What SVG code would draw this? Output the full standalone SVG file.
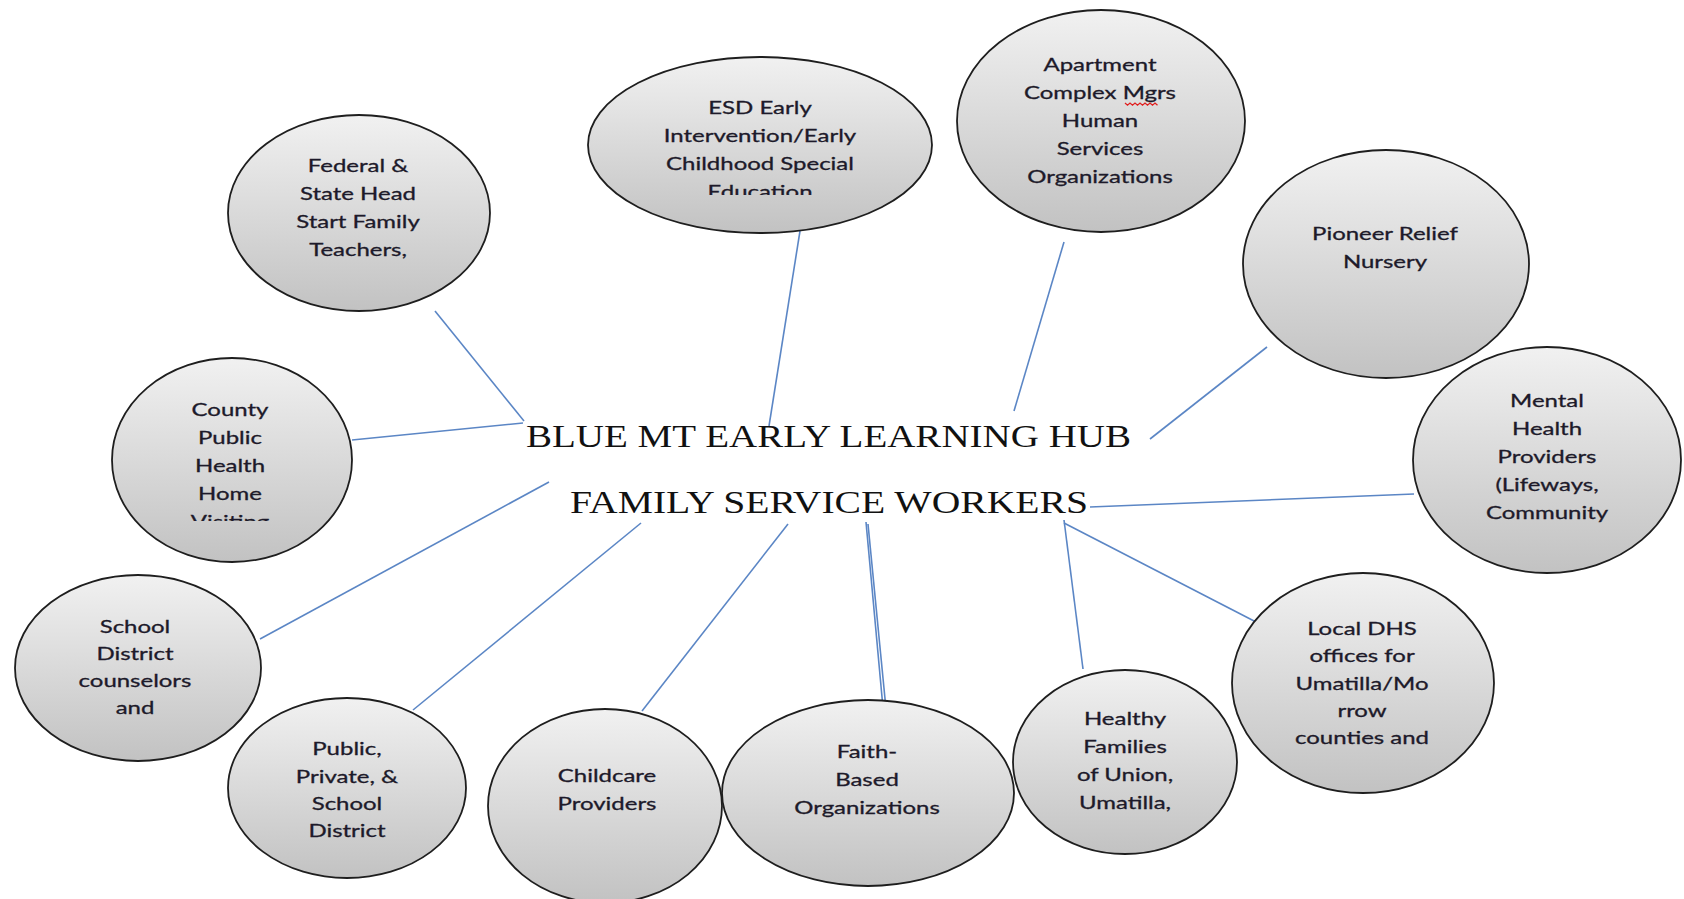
<svg xmlns="http://www.w3.org/2000/svg" width="1684" height="899" viewBox="0 0 1684 899">
<style>
.bg{fill:#ffffff}
.node{fill:url(#g);stroke:#1e1e1e;stroke-width:1.8}
.t{font-family:Lato,"Open Sans","Liberation Sans",sans-serif;font-size:17.5px;fill:#1d1a2a;stroke:#1d1a2a;stroke-width:0.3;text-anchor:middle}
.c{stroke:#5b86c5;stroke-width:1.6;fill:none}
.hub{font-family:"Liberation Serif","Times New Roman",serif;font-size:32.5px;fill:#111}
</style>
<defs>
<linearGradient id="g" x1="0" y1="0" x2="0" y2="1">
<stop offset="0" stop-color="#f1f1f1"/>
<stop offset="1" stop-color="#c2c2c2"/>
</linearGradient>
<clipPath id="clipEsd" clipPathUnits="userSpaceOnUse"><rect x="-300" y="0" width="600" height="195"/></clipPath>
<clipPath id="clipCounty" clipPathUnits="userSpaceOnUse"><rect x="-300" y="300" width="600" height="221"/></clipPath>
</defs>
<rect class="bg" x="0" y="0" width="1684" height="899"/>

<g id="connectors">
<line class="c" x1="435" y1="311" x2="524" y2="421"/>
<line class="c" x1="352" y1="440" x2="523" y2="423"/>
<line class="c" x1="800" y1="231" x2="769" y2="426"/>
<line class="c" x1="1064" y1="242" x2="1014" y2="411"/>
<line class="c" x1="1267" y1="347" x2="1150" y2="439"/>
<line class="c" x1="1414" y1="494" x2="1090" y2="507"/>
<line class="c" x1="260" y1="639" x2="549" y2="482"/>
<line class="c" x1="413" y1="710" x2="641" y2="523"/>
<line class="c" x1="642" y1="711" x2="788" y2="524"/>
<line class="c" x1="866" y1="522" x2="883" y2="708"/>
<line class="c" x1="868" y1="524" x2="886" y2="709"/>
<line class="c" x1="1064" y1="520" x2="1083" y2="669"/>
<line class="c" x1="1064" y1="523" x2="1256" y2="622"/>
</g>

<g id="hub">
<text class="hub" x="526" y="447" textLength="605" lengthAdjust="spacingAndGlyphs">BLUE MT EARLY LEARNING HUB</text>
<text class="hub" x="570" y="513" textLength="518" lengthAdjust="spacingAndGlyphs">FAMILY SERVICE WORKERS</text>
</g>

<g id="n-federal">
<ellipse class="node" cx="359" cy="213" rx="131" ry="98"/>
<g transform="translate(358,0) scale(1.37,1)">
<text class="t" x="0" y="172">Federal &amp;</text>
<text class="t" x="0" y="200">State Head</text>
<text class="t" x="0" y="228">Start Family</text>
<text class="t" x="0" y="256">Teachers,</text>
</g>
</g>

<g id="n-esd">
<ellipse class="node" cx="760" cy="145" rx="172" ry="88"/>
<g transform="translate(760,0) scale(1.37,1)" clip-path="url(#clipEsd)">
<text class="t" x="0" y="114">ESD Early</text>
<text class="t" x="0" y="142">Intervention/Early</text>
<text class="t" x="0" y="170">Childhood Special</text>
<text class="t" x="0" y="198">Education</text>
</g>
</g>

<g id="n-apartment">
<ellipse class="node" cx="1101" cy="121" rx="144" ry="111"/>
<g transform="translate(1100,0) scale(1.37,1)">
<text class="t" x="0" y="71">Apartment</text>
<text class="t" x="0" y="99">Complex Mgrs</text>
<text class="t" x="0" y="127">Human</text>
<text class="t" x="0" y="155">Services</text>
<text class="t" x="0" y="183">Organizations</text>
</g>
<path d="M1125,103 l2.5,2.2 l2.5,-2.2 l2.5,2.2 l2.5,-2.2 l2.5,2.2 l2.5,-2.2 l2.5,2.2 l2.5,-2.2 l2.5,2.2 l2.5,-2.2 l2.5,2.2 l2.5,-2.2 l2.5,2.2" fill="none" stroke="#e02020" stroke-width="1.3"/>
</g>

<g id="n-pioneer">
<ellipse class="node" cx="1386" cy="264" rx="143" ry="114"/>
<g transform="translate(1385,0) scale(1.37,1)">
<text class="t" x="0" y="240">Pioneer Relief</text>
<text class="t" x="0" y="268">Nursery</text>
</g>
</g>

<g id="n-mental">
<ellipse class="node" cx="1547" cy="460" rx="134" ry="113"/>
<g transform="translate(1547,0) scale(1.37,1)">
<text class="t" x="0" y="407">Mental</text>
<text class="t" x="0" y="435">Health</text>
<text class="t" x="0" y="463">Providers</text>
<text class="t" x="0" y="491">(Lifeways,</text>
<text class="t" x="0" y="519">Community</text>
</g>
</g>

<g id="n-county">
<ellipse class="node" cx="232" cy="460" rx="120" ry="102"/>
<g transform="translate(230,0) scale(1.37,1)" clip-path="url(#clipCounty)">
<text class="t" x="0" y="416">County</text>
<text class="t" x="0" y="444">Public</text>
<text class="t" x="0" y="472">Health</text>
<text class="t" x="0" y="500">Home</text>
<text class="t" x="0" y="528">Visiting</text>
</g>
</g>

<g id="n-school">
<ellipse class="node" cx="138" cy="668" rx="123" ry="93"/>
<g transform="translate(135,0) scale(1.37,1)">
<text class="t" x="0" y="633">School</text>
<text class="t" x="0" y="660">District</text>
<text class="t" x="0" y="687">counselors</text>
<text class="t" x="0" y="714">and</text>
</g>
</g>

<g id="n-public">
<ellipse class="node" cx="347" cy="788" rx="119" ry="90"/>
<g transform="translate(347,0) scale(1.37,1)">
<text class="t" x="0" y="755">Public,</text>
<text class="t" x="0" y="783">Private, &amp;</text>
<text class="t" x="0" y="810">School</text>
<text class="t" x="0" y="837">District</text>
</g>
</g>

<g id="n-childcare">
<ellipse class="node" cx="605" cy="806" rx="117" ry="97"/>
<g transform="translate(607,0) scale(1.37,1)">
<text class="t" x="0" y="782">Childcare</text>
<text class="t" x="0" y="810">Providers</text>
</g>
</g>

<g id="n-faith">
<ellipse class="node" cx="868" cy="793" rx="146" ry="93"/>
<g transform="translate(867,0) scale(1.37,1)">
<text class="t" x="0" y="758">Faith-</text>
<text class="t" x="0" y="786">Based</text>
<text class="t" x="0" y="814">Organizations</text>
</g>
</g>

<g id="n-healthy">
<ellipse class="node" cx="1125" cy="762" rx="112" ry="92"/>
<g transform="translate(1125,0) scale(1.37,1)">
<text class="t" x="0" y="725">Healthy</text>
<text class="t" x="0" y="753">Families</text>
<text class="t" x="0" y="781">of Union,</text>
<text class="t" x="0" y="809">Umatilla,</text>
</g>
</g>

<g id="n-dhs">
<ellipse class="node" cx="1363" cy="683" rx="131" ry="110"/>
<g transform="translate(1362,0) scale(1.37,1)">
<text class="t" x="0" y="635">Local DHS</text>
<text class="t" x="0" y="662">offices for</text>
<text class="t" x="0" y="690">Umatilla/Mo</text>
<text class="t" x="0" y="717">rrow</text>
<text class="t" x="0" y="744">counties and</text>
</g>
</g>
</svg>
